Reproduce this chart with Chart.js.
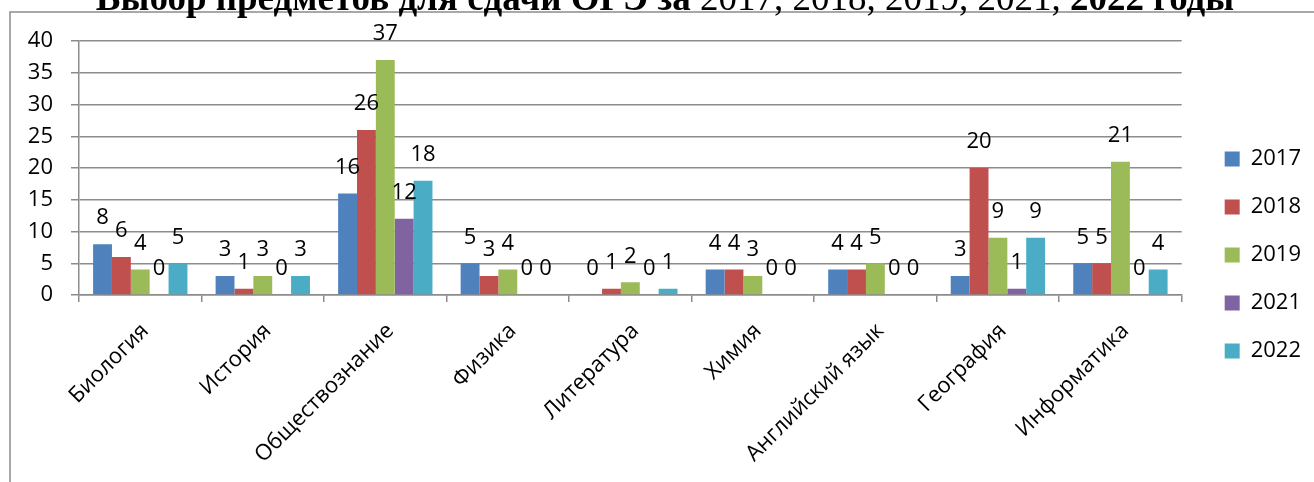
<!DOCTYPE html>
<html>
<head>
<meta charset="utf-8">
<script src="https://cdn.jsdelivr.net/npm/chart.js@4.4.0/dist/chart.umd.min.js"></script>
<style>
	html, body { margin: 0; padding: 0; background: #fff; }
	#wrap { width: 1314px; height: 482px; }
</style>
</head>
<body>
<div id="wrap"><canvas id="chart"></canvas></div>
<script>
const subjects = ["Биология", "История", "Обществознание", "Физика", "Литература", "Химия", "Английский язык", "География", "Информатика"];
const years = ["2017", "2018", "2019", "2021", "2022"];
const values2017 = [8, 3, 16, 5, 0, 4, 4, 3, 5];
const values2018 = [6, 1, 26, 3, 1, 4, 4, 20, 5];
const values2019 = [4, 3, 37, 4, 2, 3, 5, 9, 21];
const values2021 = [0, 0, 12, 0, 0, 0, 0, 1, 0];
const values2022 = [5, 3, 18, 0, 1, 0, 0, 9, 4];
const yearColours = ["#4F81BD", "#C0504D", "#9BBB59", "#8064A2", "#4BACC6"];
const yTicks = [0, 5, 10, 15, 20, 25, 30, 35, 40];

const titleParts = [
	{ text: "Выбор предметов для сдачи ОГЭ за ", bold: true },
	{ text: "2017, 2018, 2019, 2021, ", bold: false },
	{ text: "2022 годы", bold: true },
];

const gridGrey = "#8c8c8c";
const labelFont = { family: "'Open Sans', sans-serif", size: 22 };
const titleSize = 37;

// frame + cut title, drawn behind everything
const framePlugin = {
	id: "frame",
	beforeDraw(chart) {
		const ctx = chart.ctx;
		ctx.save();
		ctx.strokeStyle = gridGrey;
		ctx.lineWidth = 1.5;
		ctx.beginPath();
		ctx.moveTo(10, chart.height);
		ctx.lineTo(10, 12);
		ctx.lineTo(chart.width, 12);
		ctx.stroke();

		ctx.fillStyle = "#000";
		ctx.textBaseline = "alphabetic";
		let total = 0;
		titleParts.forEach((p) => {
			ctx.font = (p.bold ? "bold " : "") + titleSize + "px 'Liberation Serif', serif";
			total += ctx.measureText(p.text).width;
		});
		let x = 665 - total / 2;
		titleParts.forEach((p) => {
			ctx.font = (p.bold ? "bold " : "") + titleSize + "px 'Liberation Serif', serif";
			ctx.fillText(p.text, x, 10);
			x += ctx.measureText(p.text).width;
		});
		ctx.restore();
	},
};

// value labels above each bar
const valueLabels = {
	id: "valueLabels",
	afterDatasetsDraw(chart) {
		const ctx = chart.ctx;
		ctx.save();
		ctx.font = labelFont.size + "px " + labelFont.family;
		ctx.fillStyle = "#000";
		ctx.textAlign = "center";
		ctx.textBaseline = "middle";
		chart.data.datasets.forEach((ds, i) => {
			chart.getDatasetMeta(i).data.forEach((bar, j) => {
				ctx.fillText(ds.data[j], bar.x, bar.y - 26);
			});
		});
		ctx.restore();
	},
};

const seriesValues = [values2017, values2018, values2019, values2021, values2022];

new Chart(document.getElementById("chart"), {
	type: "bar",
	data: {
		labels: subjects,
		datasets: years.map((year, i) => ({
			label: year,
			data: seriesValues[i],
			backgroundColor: yearColours[i],
			borderWidth: 0,
			categoryPercentage: 0.77,
			barPercentage: 1,
		})),
	},
	options: {
		responsive: true,
		maintainAspectRatio: false,
		animation: false,
		layout: {
			padding: { top: 41, right: 3, bottom: 13, left: 0 },
		},
		scales: {
			x: {
				afterFit(scale) {
					scale.height = 174;
				},
				grid: {
					display: true,
					drawOnChartArea: false,
					color: gridGrey,
					lineWidth: 1.5,
					tickLength: 7,
					offset: true,
				},
				border: { color: gridGrey, width: 1.5 },
				ticks: {
					color: "#000",
					font: labelFont,
					maxRotation: 45,
					minRotation: 45,
					padding: 16,
					labelOffset: 5,
				},
			},
			y: {
				min: 0,
				max: 40,
				afterFit(scale) {
					scale.width = 79;
				},
				afterBuildTicks(scale) {
					scale.ticks = yTicks.map((v) => ({ value: v }));
				},
				grid: {
					color: gridGrey,
					lineWidth: 1.5,
					tickLength: 8,
				},
				border: { color: gridGrey, width: 1.5 },
				ticks: {
					color: "#000",
					font: labelFont,
					padding: 18,
				},
			},
			// empty spacer between plot and legend
			gap: {
				type: "linear",
				position: "right",
				grid: { display: false },
				border: { display: false },
				ticks: { display: false },
				afterFit(scale) {
					scale.width = 17;
				},
			},
		},
		plugins: {
			legend: {
				position: "right",
				labels: {
					color: "#000",
					font: labelFont,
					boxWidth: 15,
					boxHeight: 15,
					padding: 26,
				},
			},
			tooltip: { enabled: false },
		},
	},
	plugins: [framePlugin, valueLabels],
});
</script>
</body>
</html>
